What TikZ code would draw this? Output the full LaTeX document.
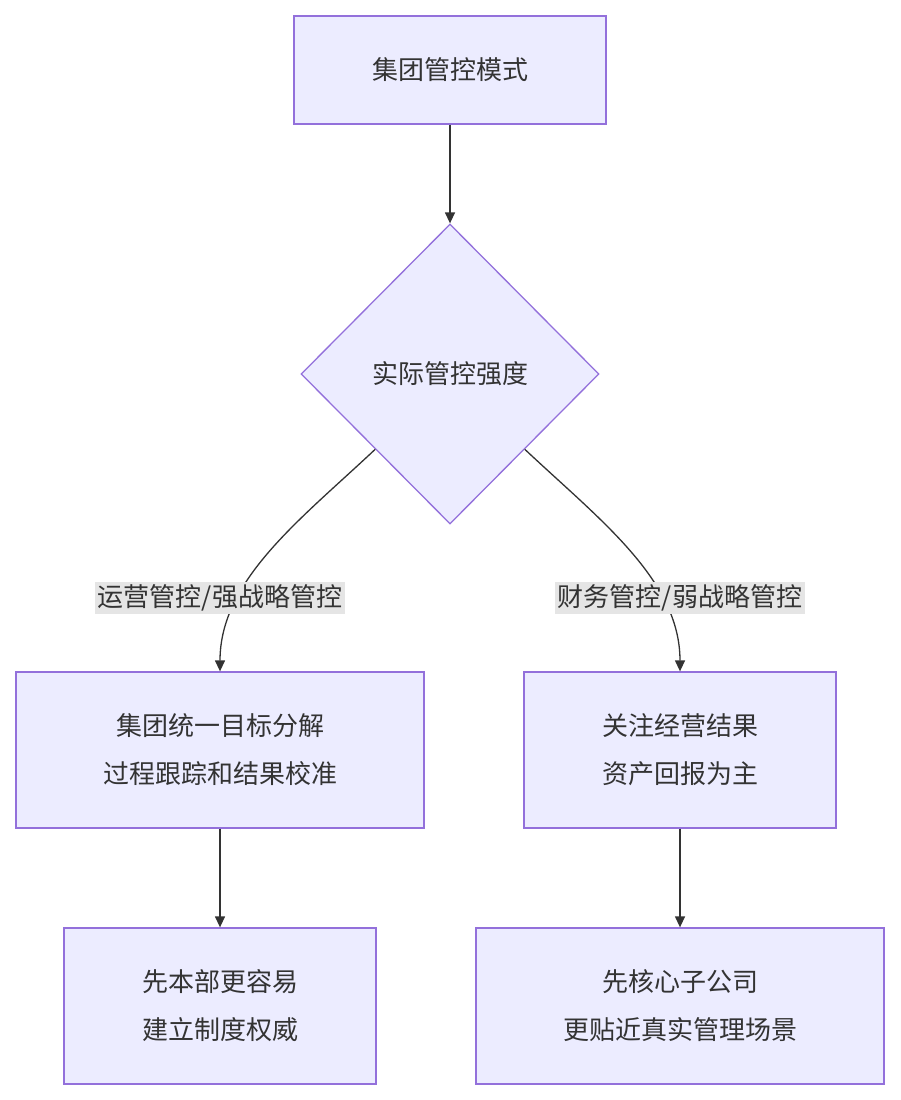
\documentclass[tikz,border=0pt]{standalone}
\usepackage{fontspec}
\newfontfamily\cjk{Noto Sans CJK SC}
\usetikzlibrary{shapes.geometric,calc,arrows.meta}
\definecolor{nf}{HTML}{ECECFF}
\definecolor{ns}{HTML}{9370DB}
\definecolor{tx}{HTML}{333333}
\begin{document}
\begin{tikzpicture}[x=1pt,y=-1pt,
 box/.style={draw=ns,fill=nf,line width=1.3pt,inner sep=0pt,align=center,font=\cjk\fontsize{26}{48}\selectfont,text=tx},
 lab/.style={fill=black!10,inner sep=3pt,font=\cjk\fontsize{26}{30}\selectfont,text=tx},
 ar/.style={draw=tx,line width=1.3pt,-{Triangle[length=11pt,width=10pt]}}]
\useasboundingbox (0,0) rectangle (900,1100);
\node[box,minimum width=312pt,minimum height=108pt] (a) at (450,70) {集团管控模式};
\node[box,diamond,minimum width=298pt,minimum height=300pt,aspect=1] (d) at (450,374) {实际管控强度};
\node[box,minimum width=408pt,minimum height=156pt] (l) at (220,750) {集团统一目标分解\\过程跟踪和结果校准};
\node[box,minimum width=312pt,minimum height=156pt] (r) at (680,750) {关注经营结果\\资产回报为主};
\node[box,minimum width=312pt,minimum height=156pt] (bl) at (220,1006) {先本部更容易\\建立制度权威};
\node[box,minimum width=408pt,minimum height=156pt] (br) at (680,1006) {先核心子公司\\更贴近真实管理场景};
\coordinate (dl) at ($(d.west)!0.5!(d.south)$);
\coordinate (dr) at ($(d.east)!0.5!(d.south)$);
\draw[ar] (a) -- (d);
\draw[ar] (dl) .. controls (300,520) and (220,580) .. (l.north);
\draw[ar] (dr) .. controls (600,520) and (680,580) .. (r.north);
\node[lab] (ll) at (220,598) {运营管控/强战略管控};
\node[lab] (rl) at (680,598) {财务管控/弱战略管控};
\draw[ar] (l) -- (bl);
\draw[ar] (r) -- (br);
\end{tikzpicture}
\end{document}
